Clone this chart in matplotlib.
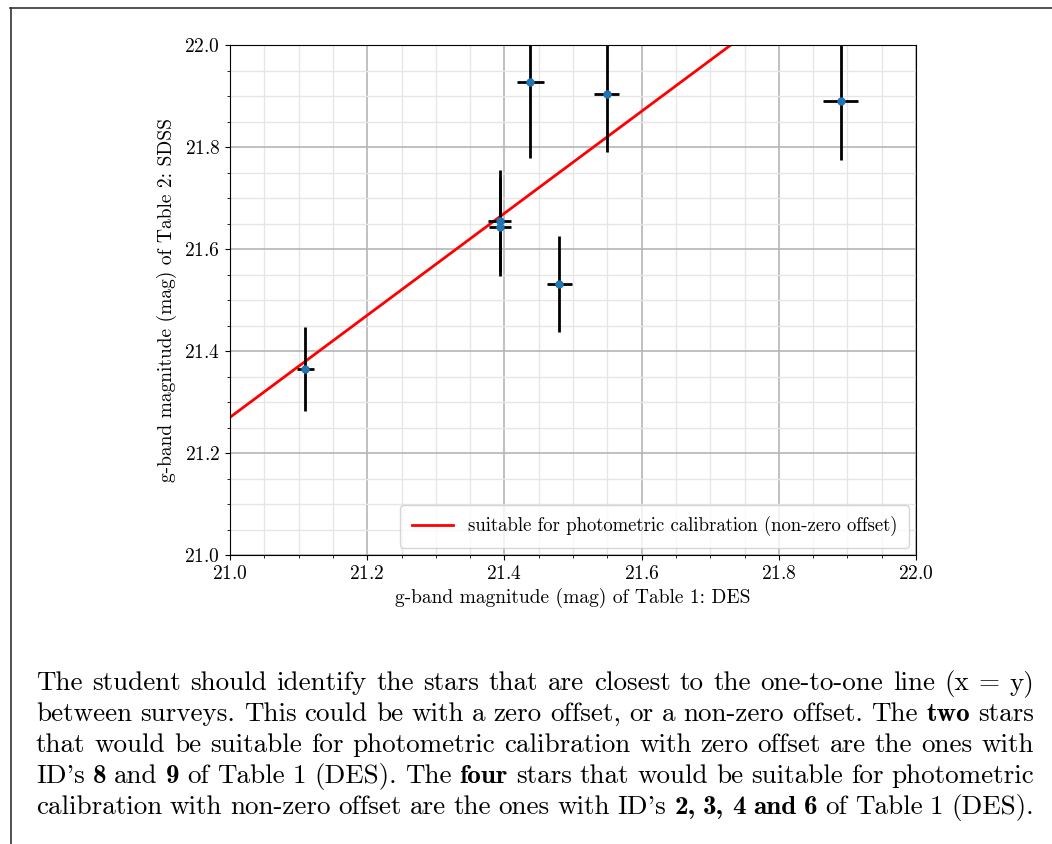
import matplotlib
matplotlib.use("Agg")
import matplotlib.pyplot as plt
from matplotlib.lines import Line2D
from matplotlib.ticker import MultipleLocator

plt.rcParams['font.family'] = ['cmr10', 'DejaVu Serif']
plt.rcParams['mathtext.fontset'] = 'cm'
plt.rcParams['axes.formatter.use_mathtext'] = True

# g-band magnitudes
des_g = [21.11, 21.393, 21.393, 21.438, 21.48, 21.549, 21.89]
des_err = [0.013, 0.017, 0.016, 0.02, 0.018, 0.018, 0.026]
sdss_g = [21.365, 21.655, 21.644, 21.928, 21.531, 21.904, 21.89]
sdss_err = [0.083, 0.1, 0.097, 0.15, 0.094, 0.114, 0.115]

offset = 0.27
line_x = [21.0, 22.0]
line_label = 'suitable for photometric calibration (non-zero offset)'

# paragraph lines, bold words marked with *
para = [
    "The student should identify the stars that are closest to the one-to-one line (x = y)",
    "between surveys. This could be with a zero offset, or a non-zero offset. The *two stars",
    "that would be suitable for photometric calibration with zero offset are the ones with",
    "ID's *8 and *9 of Table 1 (DES). The *four stars that would be suitable for photometric",
    "calibration with non-zero offset are the ones with ID's *2, *3, *4 *and *6 of Table 1 (DES).",
]

W, H = 1052, 844
fig = plt.figure(figsize=(W / 100, H / 100), dpi=100)
ax = fig.add_axes([230 / W, 1 - 555 / H, 686 / W, 510 / H])

ax.plot(line_x, [v + offset for v in line_x], color='red', lw=2, label=line_label, zorder=2)
ax.errorbar(des_g, sdss_g, xerr=des_err, yerr=sdss_err, fmt='o', color='C0', ms=5,
            ecolor='black', elinewidth=2, capsize=0, zorder=3)

ax.set_xlim(21.0, 22.0)
ax.set_ylim(21.0, 22.0)
ax.xaxis.set_major_locator(MultipleLocator(0.2))
ax.yaxis.set_major_locator(MultipleLocator(0.2))
ax.xaxis.set_minor_locator(MultipleLocator(0.05))
ax.yaxis.set_minor_locator(MultipleLocator(0.05))
ax.grid(which='major', color='#b5b5b5', lw=1.2)
ax.grid(which='minor', color='#e6e6e6', lw=1.0)
ax.set_axisbelow(True)
ax.tick_params(labelsize=14)
ax.set_xlabel('g-band magnitude (mag) of Table 1: DES', fontsize=14)
ax.set_ylabel('g-band magnitude (mag) of Table 2: SDSS', fontsize=14, labelpad=5)
ax.legend(loc='lower right', fontsize=13.5, borderpad=0.6, handlelength=2.2,
          borderaxespad=0.4)

# page border (top and left only)
fig.add_artist(Line2D([10 / W, 1], [1 - 8 / H, 1 - 8 / H], color='#333333', lw=1.2))
fig.add_artist(Line2D([11 / W, 11 / W], [0, 1 - 8 / H], color='#333333', lw=1.2))

# justified paragraph
fig.canvas.draw()
renderer = fig.canvas.get_renderer()
x0, x1 = 36, 1034
for i, line in enumerate(para):
    y = 1 - (690 + 31 * i) / H
    texts = []
    for word in line.split(' '):
        bold = word.startswith('*')
        t = fig.text(0, y, word.lstrip('*'), fontsize=19.5, va='baseline',
                     family='cmb10' if bold else 'cmr10')
        texts.append(t)
    widths = [t.get_window_extent(renderer).width for t in texts]
    gap = (x1 - x0 - sum(widths)) / (len(texts) - 1)
    x = x0
    for t, w in zip(texts, widths):
        t.set_x(x / W)
        x += w + gap

fig.savefig('out.png', dpi=100)
